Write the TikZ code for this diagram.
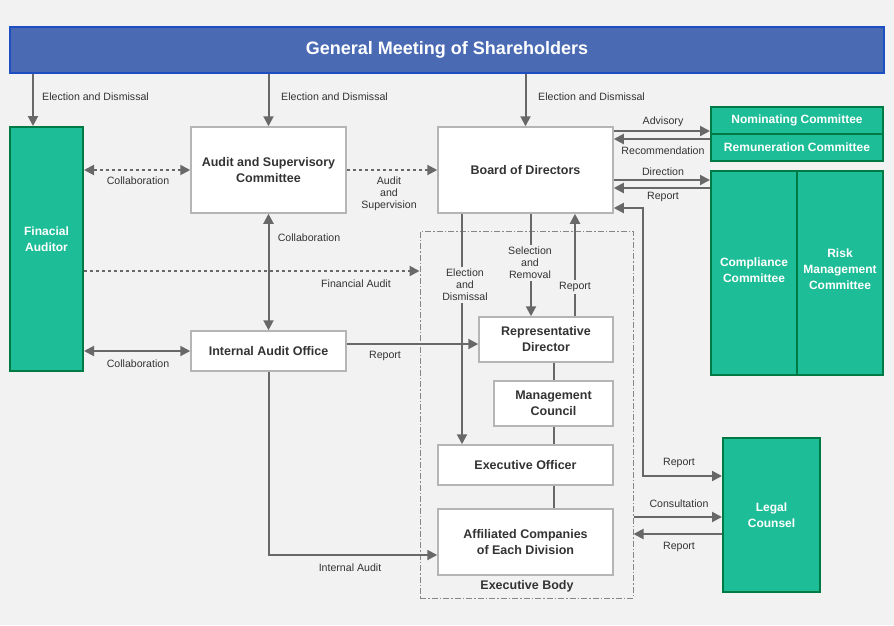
\documentclass[tikz,border=0pt]{standalone}
\usepackage{fontspec}
\setmainfont{Liberation Sans}
\usetikzlibrary{arrows.meta}
\definecolor{bg}{HTML}{F2F2F2}
\definecolor{gmfill}{HTML}{4A6AB4}
\definecolor{gmline}{HTML}{1E4FC0}
\definecolor{grn}{HTML}{1DBD98}
\definecolor{grnline}{HTML}{007A45}
\definecolor{arrc}{HTML}{686868}
\definecolor{boxline}{HTML}{B5B5B5}
\definecolor{txt}{HTML}{333333}
\tikzset{
  box/.style={draw=boxline, line width=1.5pt, fill=white, inner sep=0pt, align=center,
    text=txt, font=\fontsize{12.5}{16}\selectfont\bfseries},
  gbox/.style={draw=grnline, line width=2pt, fill=grn, inner sep=0pt, align=center,
    text=white, font=\fontsize{12}{16}\selectfont\bfseries},
  gtext/.style={text=white, font=\fontsize{12}{16}\selectfont\bfseries, align=center},
  conn/.style={draw=arrc, line width=2pt},
  arr/.style={conn, -{Triangle[length=10pt,width=10pt]}},
  darr/.style={conn, {Triangle[length=10pt,width=10pt]}-{Triangle[length=10pt,width=10pt]}},
  dotl/.style={dash pattern=on 3pt off 3pt},
  lbl/.style={text=txt, font=\fontsize{10.6}{12}\selectfont, inner sep=1pt, align=center},
  lblf/.style={lbl, fill=bg, inner sep=2pt},
}
\begin{document}
\begin{tikzpicture}[x=1pt,y=-1pt]
\useasboundingbox (0,0) rectangle (894,625);
\fill[bg] (0,0) rectangle (894,625);

% executive body frame
\node[draw=arrc!80, line width=1pt, dash pattern=on 6pt off 2pt on 1.5pt off 2pt,
  minimum width=213pt, minimum height=367pt, inner sep=0pt] (eb) at (526.5,414.5) {};
\node[text=txt, font=\fontsize{12.5}{14}\selectfont\bfseries] (ebl) at (527,586) {Executive Body};

% nodes
\node[draw=gmline, line width=2pt, fill=gmfill, minimum width=874pt, minimum height=46pt,
  inner sep=0pt, text=white, font=\fontsize{18}{20}\selectfont\bfseries] (gm) at (447,50) {General Meeting of Shareholders};
\node[gbox, minimum width=73pt, minimum height=244pt] (fa) at (46.5,249) {};
\node[gtext] (fal) at (46.5,239) {Finacial\\Auditor};
\node[box, minimum width=155pt, minimum height=86pt] (asc) at (268.5,170) {Audit and Supervisory\\Committee};
\node[box, minimum width=175pt, minimum height=86pt] (bod) at (525.5,170) {Board of Directors};
\node[gbox, minimum width=172pt, minimum height=27pt] (nom) at (797,120.5) {Nominating Committee};
\node[gbox, minimum width=172pt, minimum height=27pt] (rem) at (797,147.5) {Remuneration Committee};
\node[gbox, minimum width=86pt, minimum height=204pt] (comp) at (754,273) {};
\node[gbox, minimum width=86pt, minimum height=204pt] (risk) at (840,273) {};
\node[gtext] (compl) at (754,270) {Compliance\\Committee};
\node[gtext] (riskl) at (840,269) {Risk\\Management\\Committee};
\node[box, minimum width=155pt, minimum height=40pt] (iao) at (268.5,351) {Internal Audit Office};
\node[box, minimum width=134pt, minimum height=45pt] (rep) at (546,339.5) {Representative\\Director};
\node[box, minimum width=119pt, minimum height=45pt] (mc) at (553.5,403.5) {Management\\Council};
\node[box, minimum width=175pt, minimum height=40pt] (eo) at (525.5,465) {Executive Officer};
\node[box, minimum width=175pt, minimum height=66pt] (aff) at (525.5,542) {Affiliated Companies\\of Each Division};
\node[gbox, minimum width=97pt, minimum height=154pt] (lc) at (771.5,515) {Legal\\Counsel};

% GM arrows
\draw[arr] (gm.south -| 33,0) -- (fa.north -| 33,0);
\draw[arr] (gm.south -| asc.north) -- (asc.north);
\draw[arr] (gm.south -| bod.north) -- (bod.north);
\node[lbl, anchor=west] (l1) at (41,97) {Election and Dismissal};
\node[lbl, anchor=west] (l2) at (280,97) {Election and Dismissal};
\node[lbl, anchor=west] (l3) at (537,97) {Election and Dismissal};

% left side
\draw[darr, dotl] (fa.east |- asc.west) -- (asc.west);
\node[lbl] (l4) at (138,181) {Collaboration};
\draw[arr, dotl] (asc.east) -- (bod.west);
\node[lbl] (l5) at (389,194) {Audit\\and\\Supervision};
\draw[darr] (asc.south) -- (iao.north);
\node[lbl] (l6) at (309,238) {Collaboration};
\draw[arr, dotl] (fa.east |- 0,271) -- (eb.west |- 0,271);
\node[lbl] (l7) at (356,284) {Financial Audit};
\draw[darr] (fa.east |- iao.west) -- (iao.west);
\node[lbl] (l8) at (138,364) {Collaboration};
\draw[arr] (iao.east |- 0,344) -- (rep.west |- 0,344);
\node[lbl] (l9) at (385,356) {Report};
\draw[arr] (iao.south) |- (aff.west |- 0,555);
\node[lbl] (l10) at (350,568) {Internal Audit};

% board down
\draw[arr] (bod.south -| 462,0) -- (eo.north -| 462,0);
\node[lblf] (l11) at (465,285) {Election\\and\\Dismissal};
\draw[arr] (bod.south -| 531,0) -- (rep.north -| 531,0);
\node[lblf] (l12) at (530,263) {Selection\\and\\Removal};
\draw[arr] (rep.north -| 575,0) -- (bod.south -| 575,0);
\node[lblf] (l13) at (575,287) {Report};

% executive chain
\draw[conn] (rep.south -| mc.north) -- (mc.north);
\draw[conn] (mc.south) -- (eo.north -| mc.south);
\draw[conn] (eo.south -| mc.south) -- (aff.north -| mc.south);

% committees
\draw[arr] (bod.east |- 0,131) -- (nom.west |- 0,131);
\draw[arr] (rem.west |- 0,139) -- (bod.east |- 0,139);
\node[lbl] (l14) at (663,122) {Advisory};
\node[lbl] (l15) at (663,151) {Recommendation};
\draw[arr] (bod.east |- 0,180) -- (comp.west |- 0,180);
\draw[arr] (comp.west |- 0,188) -- (bod.east |- 0,188);
\node[lbl] (l16) at (663,172) {Direction};
\node[lbl] (l17) at (663,197) {Report};

% legal counsel
\draw[darr] (bod.east |- 0,208) -- (643,208) |- (lc.west |- 0,476);
\node[lbl] (l18) at (679,463) {Report};
\draw[arr] (eb.east |- 0,517) -- (lc.west |- 0,517);
\node[lbl] (l19) at (679,504) {Consultation};
\draw[arr] (lc.west |- 0,534) -- (eb.east |- 0,534);
\node[lbl] (l20) at (679,547) {Report};
\end{tikzpicture}
\end{document}
